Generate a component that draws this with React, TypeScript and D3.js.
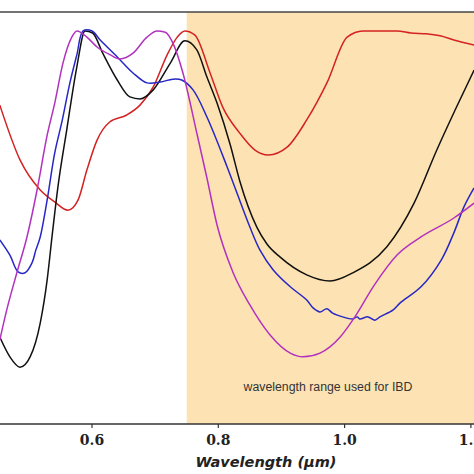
import React from "react";
import * as d3 from "d3";

const W = 474;
const H = 474;

// wavelength (µm), relative reflectance
const redData: [number, number][] = [
  [0.454, 0.774], [0.486, 0.641], [0.518, 0.568], [0.541, 0.539], [0.562, 0.519],
  [0.578, 0.544], [0.592, 0.617], [0.608, 0.689], [0.628, 0.733], [0.655, 0.750],
  [0.676, 0.774], [0.697, 0.818], [0.719, 0.896], [0.735, 0.939], [0.747, 0.954],
  [0.763, 0.944], [0.787, 0.852], [0.807, 0.769], [0.834, 0.706], [0.858, 0.665],
  [0.879, 0.653], [0.909, 0.672], [0.940, 0.738], [0.972, 0.828], [1.004, 0.939],
  [1.029, 0.954], [1.083, 0.954], [1.105, 0.949], [1.130, 0.947], [1.153, 0.942],
  [1.173, 0.932], [1.205, 0.920],
];

const blackData: [number, number][] = [
  [0.454, 0.211], [0.470, 0.163], [0.486, 0.138], [0.502, 0.163], [0.518, 0.245],
  [0.529, 0.350], [0.537, 0.459], [0.546, 0.575], [0.560, 0.714], [0.576, 0.867],
  [0.589, 0.954], [0.601, 0.949], [0.617, 0.900], [0.640, 0.835], [0.660, 0.794],
  [0.676, 0.789], [0.697, 0.811], [0.724, 0.876], [0.747, 0.930], [0.766, 0.908],
  [0.782, 0.842], [0.798, 0.779], [0.819, 0.677], [0.834, 0.590], [0.861, 0.478],
  [0.877, 0.437], [0.898, 0.405], [0.940, 0.362], [0.977, 0.347], [1.013, 0.367],
  [1.067, 0.430], [1.110, 0.536], [1.146, 0.665], [1.175, 0.762], [1.205, 0.859],
];

const blueData: [number, number][] = [
  [0.454, 0.447], [0.470, 0.410], [0.483, 0.369], [0.494, 0.367], [0.505, 0.391],
  [0.511, 0.422], [0.518, 0.454], [0.529, 0.544], [0.541, 0.658], [0.553, 0.738],
  [0.565, 0.828], [0.576, 0.896], [0.586, 0.954], [0.600, 0.954], [0.613, 0.932],
  [0.640, 0.891], [0.665, 0.852], [0.687, 0.828], [0.708, 0.830], [0.728, 0.837],
  [0.742, 0.835], [0.760, 0.811], [0.782, 0.745], [0.814, 0.624], [0.850, 0.478],
  [0.866, 0.422], [0.887, 0.374], [0.914, 0.333], [0.940, 0.301], [0.950, 0.282],
  [0.961, 0.272], [0.972, 0.280], [0.981, 0.269], [0.997, 0.260], [1.013, 0.255],
  [1.020, 0.260], [1.024, 0.255], [1.037, 0.260], [1.048, 0.252], [1.056, 0.260],
  [1.077, 0.277], [1.088, 0.294], [1.121, 0.333], [1.153, 0.398], [1.173, 0.464],
  [1.189, 0.527], [1.205, 0.573],
];

const magentaData: [number, number][] = [
  [0.454, 0.204], [0.465, 0.277], [0.481, 0.367], [0.497, 0.454], [0.513, 0.568],
  [0.529, 0.701], [0.541, 0.779], [0.554, 0.876], [0.568, 0.939], [0.576, 0.954],
  [0.592, 0.939], [0.608, 0.915], [0.629, 0.896], [0.644, 0.886], [0.665, 0.900],
  [0.687, 0.939], [0.703, 0.954], [0.716, 0.951], [0.728, 0.925], [0.744, 0.852],
  [0.766, 0.706], [0.782, 0.597], [0.798, 0.483], [0.823, 0.369], [0.850, 0.289],
  [0.882, 0.216], [0.914, 0.172], [0.934, 0.163], [0.961, 0.172], [0.993, 0.211],
  [1.015, 0.257], [1.047, 0.337], [1.083, 0.410], [1.121, 0.454], [1.173, 0.500],
  [1.205, 0.536],
];

const xTicks = [0.6, 0.8, 1.0, 1.2];
const ibdStart = 0.75;
const series = [
  { name: "red", data: redData, color: "#d42222", smooth: true },
  { name: "black", data: blackData, color: "#111111", smooth: true },
  { name: "blue", data: blueData, color: "#2727c6", smooth: false },
  { name: "magenta", data: magentaData, color: "#b232bf", smooth: true },
];

export default function App() {
  const top = 12;
  const bottom = 424;
  const x = d3.scaleLinear().domain([0.6, 1.0]).range([92, 344.6]);
  const y = d3.scaleLinear().domain([0, 1]).range([bottom, top]);
  const smoothLine = d3
    .line<[number, number]>()
    .x((d) => x(d[0]))
    .y((d) => y(d[1]))
    .curve(d3.curveMonotoneX);
  const roughLine = d3
    .line<[number, number]>()
    .x((d) => x(d[0]))
    .y((d) => y(d[1]))
    .curve(d3.curveCatmullRom.alpha(0.5));

  return (
    <svg
      width={W}
      height={H}
      style={{ position: "absolute", left: 0, top: 0, background: "#fff" }}
    >
      <defs>
        <clipPath id="plot">
          <rect x={0} y={top} width={W} height={bottom - top} />
        </clipPath>
      </defs>
      <rect
        x={x(ibdStart)}
        y={top}
        width={W - x(ibdStart)}
        height={bottom - top}
        fill="#fde3b3"
      />
      <text
        x={328}
        y={391}
        textAnchor="middle"
        fontFamily="Liberation Sans, Arial, sans-serif"
        fontSize={12.3}
        fill="#333"
      >
        wavelength range used for IBD
      </text>
      <g clipPath="url(#plot)">
        {series.map((s) => (
          <path
            key={s.name}
            d={(s.smooth ? smoothLine(s.data) : roughLine(s.data)) || ""}
            fill="none"
            stroke={s.color}
            strokeWidth={1.5}
          />
        ))}
      </g>
      <line x1={0} x2={W} y1={top} y2={top} stroke="#444" strokeWidth={1.4} />
      <line x1={0} x2={W} y1={bottom} y2={bottom} stroke="#333" strokeWidth={1.4} />
      {xTicks.map((t) => (
        <g key={t} transform={`translate(${x(t)},0)`}>
          <line y1={bottom} y2={bottom + 4} stroke="#333" strokeWidth={1.2} />
          <text
            y={445}
            textAnchor="middle"
            fontFamily="DejaVu Serif"
            fontWeight="bold"
            fontSize={14}
            fill="#222"
          >
            {t.toFixed(1)}
          </text>
        </g>
      ))}
      <text
        x={266}
        y={467}
        textAnchor="middle"
        fontFamily="DejaVu Sans"
        fontWeight="bold"
        fontStyle="italic"
        fontSize={14.5}
        fill="#222"
      >
        Wavelength (μm)
      </text>
    </svg>
  );
}
